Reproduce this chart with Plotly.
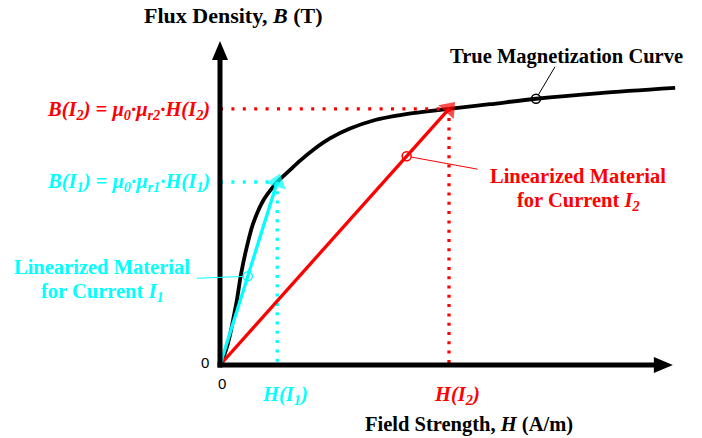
import math
import plotly.graph_objects as go

# ---- data -------------------------------------------------------------
# True B-H magnetization curve (H in A/m, B in T)
H_curve = [0, 7, 21, 35, 49, 59, 73, 91, 115, 150, 175, 200, 245, 280,
           332, 384, 454, 542, 629, 716, 800, 943, 1104, 1328, 1590]
B_curve = [0, 0.022, 0.082, 0.164, 0.273, 0.355, 0.492, 0.628, 0.770,
           0.896, 0.953, 1.0, 1.066, 1.117, 1.183, 1.238, 1.292, 1.339,
           1.366, 1.384, 1.40, 1.425, 1.455, 1.486, 1.514]

# Operating points for the two currents
H_op = [200, 800]     # H(I1), H(I2)
B_op = [1.0, 1.40]    # B(I1), B(I2)

# Points where the callouts attach
H_mark_curve, B_mark_curve = 1104, 1.455
H_mark_1 = 97
H_mark_2 = 652

# Axis extents (tips of the arrows)
H_axis_end = 1582
B_axis_end = 1.77

# ---- styling ----------------------------------------------------------
RED = "#FF0000"
CYAN = "#00FFFF"
BLACK = "#000000"
SERIF = "Liberation Serif, Times New Roman, serif"
SANS = "Liberation Sans, Arial, sans-serif"
W, HGT = 702, 438

# pixel scale of the plot (px per unit) and origin position
SX, SY = 0.28625, 183.0
OX, OY = 220.0, 365.0
x_range = [-OX / SX, (W - OX) / SX]
y_range = [-(HGT - OY) / SY, OY / SY]


def paper(xp, yp):
    return xp / W, 1 - yp / HGT


fig = go.Figure()

# true magnetization curve
fig.add_trace(go.Scatter(x=H_curve, y=B_curve, mode="lines",
                         line=dict(color=BLACK, width=3.8, shape="spline",
                                   smoothing=0.8),
                         hoverinfo="skip"))

# dotted guides to the operating points
for h, b, c in zip(H_op, B_op, [CYAN, RED]):
    fig.add_trace(go.Scatter(x=[0, h], y=[b, b], mode="lines",
                             line=dict(color=c, width=3.3, dash="3px,8.4px"),
                             hoverinfo="skip"))
    fig.add_trace(go.Scatter(x=[h, h], y=[b, 0], mode="lines",
                             line=dict(color=c, width=3.3, dash="3px,6.3px"),
                             hoverinfo="skip"))

# linearized material lines with arrow heads
for h, b, c in zip(H_op[::-1], B_op[::-1], [RED, CYAN]):
    fig.add_trace(go.Scatter(x=[0, h], y=[0, b], mode="lines+markers",
                             line=dict(color=c, width=3.3),
                             marker=dict(symbol="triangle-up", size=[0, 18],
                                         color=c, angleref="previous",
                                         line=dict(width=0)),
                             hoverinfo="skip"))

# callout circles
slope1 = B_op[0] / H_op[0]
slope2 = B_op[1] / H_op[1]
circles = [
    (H_mark_curve, B_mark_curve, BLACK),
    (H_mark_1, H_mark_1 * slope1, CYAN),
    (H_mark_2, H_mark_2 * slope2, RED),
]
for h, b, c in circles:
    fig.add_trace(go.Scatter(x=[h], y=[b], mode="markers",
                             marker=dict(symbol="circle-open", size=9,
                                         color=c, line=dict(width=1.5, color=c)),
                             hoverinfo="skip"))

shapes = []

# axes: thick lines with triangular heads (head sizes in pixels)
HEAD_L, HEAD_HALF = 19, 8
shapes.append(dict(type="line", xref="x", yref="y",
                   x0=-2.5 / SX, y0=0, x1=H_axis_end - (HEAD_L - 2) / SX, y1=0,
                   line=dict(color=BLACK, width=5)))
shapes.append(dict(type="line", xref="x", yref="y",
                   x0=0, y0=-2.5 / SY, x1=0, y1=B_axis_end - (HEAD_L - 2) / SY,
                   line=dict(color=BLACK, width=5)))
shapes.append(dict(type="path", xref="x", yref="y",
                   xsizemode="pixel", ysizemode="pixel",
                   xanchor=H_axis_end, yanchor=0,
                   path=f"M0,0 L{-HEAD_L},{HEAD_HALF} L{-HEAD_L},{-HEAD_HALF} Z",
                   fillcolor=BLACK, line=dict(width=0)))
shapes.append(dict(type="path", xref="x", yref="y",
                   xsizemode="pixel", ysizemode="pixel",
                   xanchor=0, yanchor=B_axis_end,
                   path=f"M0,0 L{-HEAD_HALF},{-HEAD_L} L{HEAD_HALF},{-HEAD_L} Z",
                   fillcolor=BLACK, line=dict(width=0)))

# thin leader lines from the callout circles (offsets in pixels, y up)
leaders = [(circles[0], 19, 32), (circles[1], -51, -2), (circles[2], 71, -13)]
for (h, b, c), dx, dy in leaders:
    d = math.hypot(dx, dy)
    r = 4.5
    shapes.append(dict(type="line", xref="x", yref="y",
                       xsizemode="pixel", ysizemode="pixel",
                       xanchor=h, yanchor=b,
                       x0=dx * r / d, y0=dy * r / d, x1=dx, y1=dy,
                       line=dict(color=c, width=1)))

annotations = []


def label(text, xp, yp, color, size=20.5, family=SERIF, xanchor="center"):
    x, y = paper(xp, yp)
    annotations.append(dict(text=text, x=x, y=y, xref="paper", yref="paper",
                            showarrow=False, xanchor=xanchor, yanchor="middle",
                            font=dict(family=family, size=size, color=color)))


label("<b>Flux Density, <i>B</i> (T)</b>", 233, 15, BLACK, size=22)
label("<b>Field Strength, <i>H</i> (A/m)</b>", 469, 424, BLACK)
label("<b>True Magnetization Curve</b>", 566, 57, BLACK)

label("<b>Linearized Material</b>", 578, 176, RED)
label("<b>for Current <i>I</i><sub><i>2</i></sub></b>", 578, 201, RED)
label("<b>Linearized Material</b>", 102, 267, CYAN)
label("<b>for Current <i>I</i><sub><i>1</i></sub></b>", 102, 292, CYAN)

label("<b><i>B(I<sub>2</sub>) = μ<sub>0</sub>·μ<sub>r2</sub>·H(I<sub>2</sub>)</i></b>",
      212, 110, RED, xanchor="right")
label("<b><i>B(I<sub>1</sub>) = μ<sub>0</sub>·μ<sub>r1</sub>·H(I<sub>1</sub>)</i></b>",
      212, 182, CYAN, xanchor="right")

label("<b><i>H(I<sub>1</sub>)</i></b>", 285, 395, CYAN)
label("<b><i>H(I<sub>2</sub>)</i></b>", 457, 395, RED)

label("0", 205, 362, BLACK, size=15, family=SANS)
label("0", 222, 383, BLACK, size=15, family=SANS)

fig.update_layout(
    width=W, height=HGT, autosize=False,
    margin=dict(l=0, r=0, t=0, b=0),
    paper_bgcolor="white", plot_bgcolor="white",
    showlegend=False,
    xaxis=dict(range=x_range, visible=False, fixedrange=True),
    yaxis=dict(range=y_range, visible=False, fixedrange=True),
    shapes=shapes,
    annotations=annotations,
)

fig.write_html("out.html")
